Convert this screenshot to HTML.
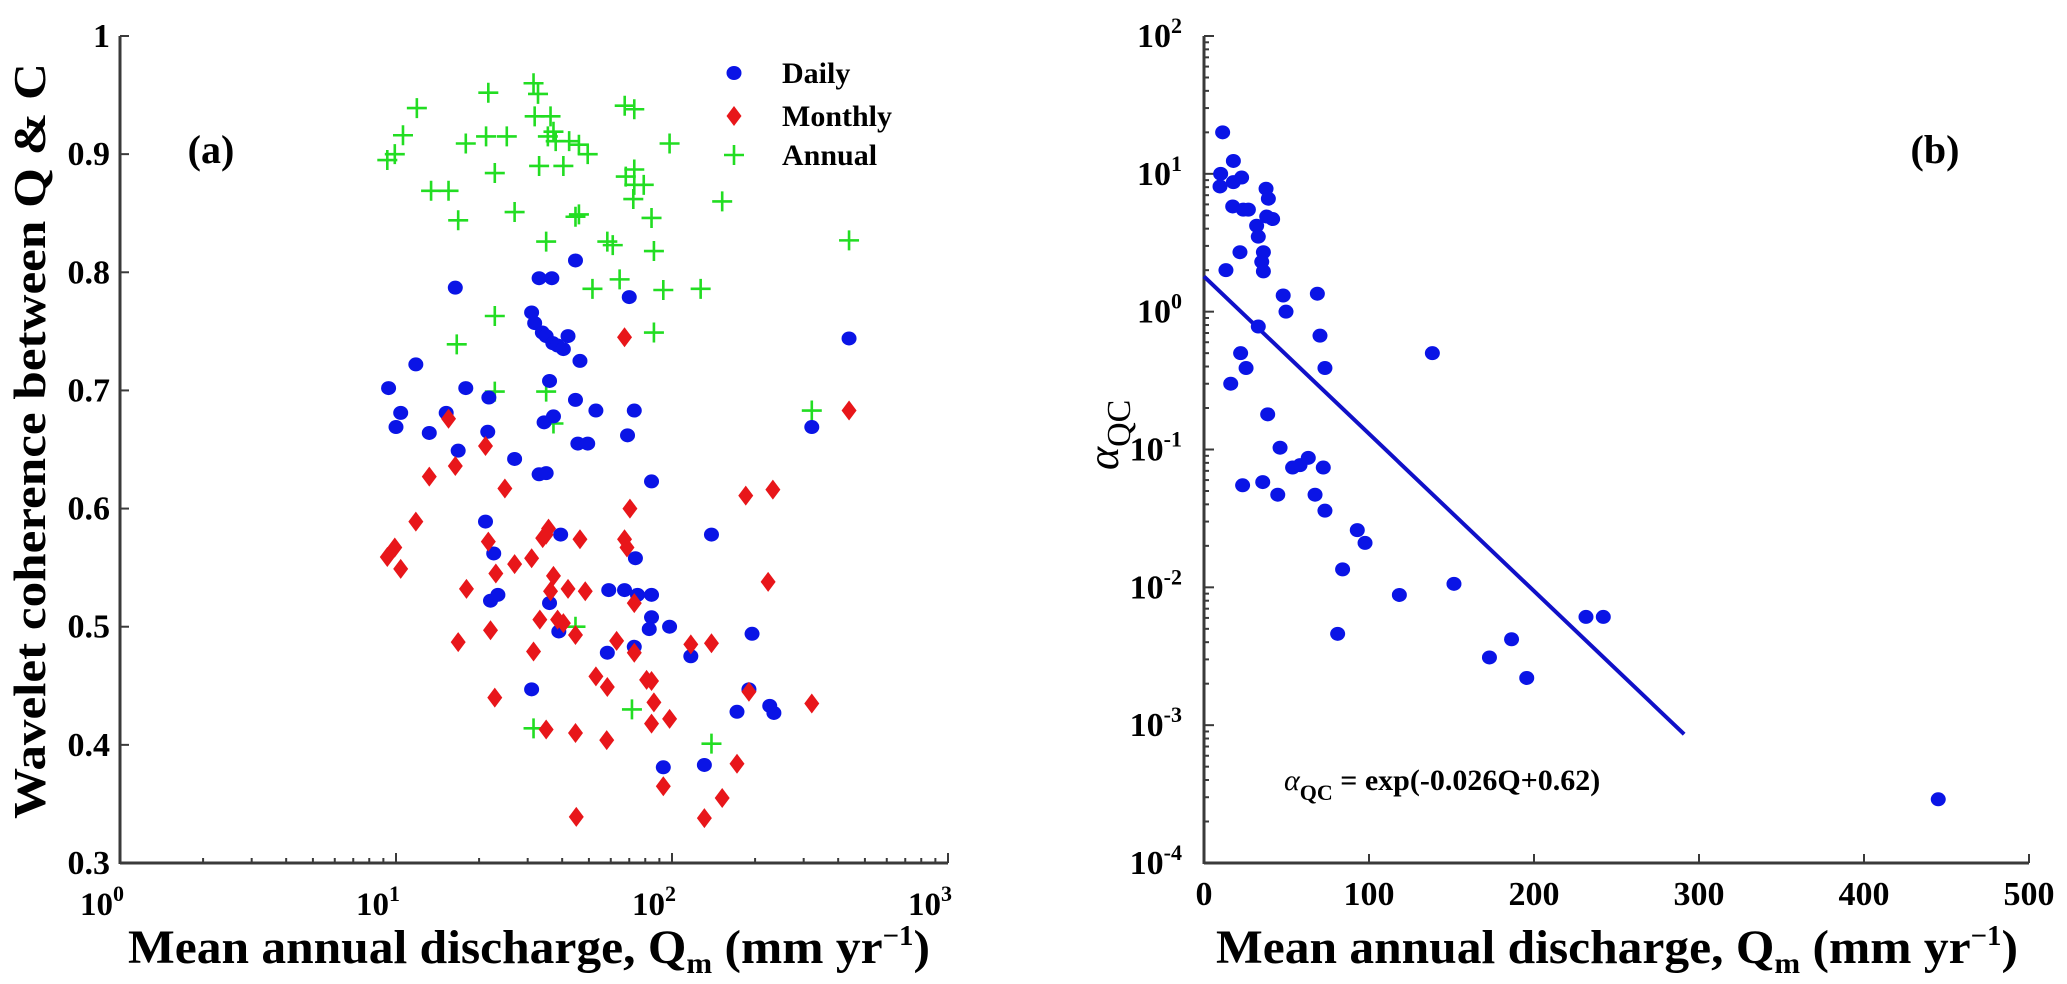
<!DOCTYPE html>
<html><head><meta charset="utf-8"><style>
html,body{margin:0;padding:0;background:#fff;}
svg{display:block;}
svg text{font-family:"Liberation Serif","Times New Roman",serif;font-weight:bold;}
</style></head><body>
<svg id="chart" width="2067" height="984" viewBox="0 0 2067 984" xmlns="http://www.w3.org/2000/svg" font-family="Liberation Serif, serif" font-weight="bold">
<g id="pa"></g>
<g id="pb"></g>
<text x="211" y="163" font-size="40" text-anchor="middle">(a)</text>
<text x="1935" y="163" font-size="40" text-anchor="middle">(b)</text>
<text x="128" y="963" font-size="48" textLength="802" lengthAdjust="spacingAndGlyphs">Mean annual discharge, Q<tspan font-size="30" dy="10">m</tspan><tspan dy="-10"> (mm yr</tspan><tspan font-size="28" dy="-18">−1</tspan><tspan dy="18">)</tspan></text>
<text x="1216" y="963" font-size="48" textLength="802" lengthAdjust="spacingAndGlyphs">Mean annual discharge, Q<tspan font-size="30" dy="10">m</tspan><tspan dy="-10"> (mm yr</tspan><tspan font-size="28" dy="-18">−1</tspan><tspan dy="18">)</tspan></text>
<text transform="translate(45,441) rotate(-90)" font-size="46" text-anchor="middle" textLength="756" lengthAdjust="spacingAndGlyphs">Wavelet  coherence between Q &amp; C</text>
<text transform="translate(1118,470) rotate(-90)" font-size="44" style="font-weight:normal"><tspan font-style="italic">α</tspan><tspan dy="12" font-size="34">QC</tspan></text>
<text x="1284" y="790" font-size="30"><tspan font-style="italic" style="font-weight:normal">α</tspan><tspan dy="10" font-size="22">QC</tspan><tspan dy="-10"> = exp(-0.026Q+0.62)</tspan></text>
<g id="legend"></g>
</svg>
<script>
// Panel (a) data: Mean annual discharge Q (mm/yr), wavelet coherence C
const dailyQ = [9.4,10,10.4,11.8,13.2,15.2,16.4,16.8,17.9,21.5,21.7,21.1,22,22.6,23.4,26.9,31,31.8,33.9,35,37,38.5,40.4,42,33,36.7,44.7,46.4,44.7,45.6,49.5,53,36,34.4,37.2,33,35,39.5,31,36,38.9,58.3,59,67.3,70,69,73,73.7,73,75,84.3,84.3,84.3,82.7,98,93,117,139,131,172,195,190,438,321,234,226];
const dailyC = [0.702,0.669,0.681,0.722,0.664,0.681,0.787,0.649,0.702,0.665,0.694,0.589,0.522,0.562,0.527,0.642,0.766,0.757,0.749,0.746,0.740,0.738,0.735,0.746,0.795,0.795,0.810,0.725,0.692,0.655,0.655,0.683,0.708,0.673,0.678,0.629,0.630,0.578,0.447,0.520,0.496,0.478,0.531,0.531,0.779,0.662,0.683,0.558,0.483,0.527,0.623,0.527,0.508,0.498,0.500,0.381,0.475,0.578,0.383,0.428,0.494,0.447,0.744,0.669,0.427,0.433];
const monthlyQ = [9.3,9.9,10.4,11.8,13.2,15.5,16.4,16.8,18,21.1,21.6,22,22.8,23,24.8,26.9,31,31.5,33.2,34,35,35.7,36.3,37.2,35,38.5,40.4,42,44.7,44.7,46.4,48.5,53,58.3,58,63,67.3,68.7,70.4,73,73,67.3,80.9,84.3,86,84.3,98,93,117,139,131,152,172,190,185,232,223,321,438,45];
const monthlyC = [0.559,0.567,0.549,0.589,0.627,0.676,0.636,0.487,0.532,0.653,0.572,0.497,0.44,0.545,0.617,0.553,0.558,0.479,0.506,0.575,0.578,0.583,0.530,0.543,0.413,0.506,0.503,0.532,0.493,0.410,0.574,0.530,0.458,0.449,0.404,0.488,0.574,0.567,0.600,0.520,0.478,0.745,0.455,0.454,0.436,0.418,0.422,0.365,0.485,0.486,0.338,0.355,0.384,0.445,0.611,0.616,0.538,0.435,0.683,0.339];
const annualQ = [9.3,9.9,10.6,11.9,13.4,15.5,16.8,17.9,21.6,21.2,22.8,25.2,26.9,31.5,32.7,31.8,36.3,33,35.5,37.2,40.4,37.9,42.4,46,49.5,44.7,46,35,58.3,61,51.5,64.6,67.4,73,68,73,73,79,72.4,84.3,86,93,98,86,127,152,438,321,16.6,22.8,22.8,35,37.2,44.7,31.5,71.6,139];
const annualC = [0.895,0.90,0.916,0.939,0.869,0.869,0.844,0.909,0.952,0.915,0.884,0.915,0.851,0.960,0.951,0.932,0.932,0.89,0.915,0.919,0.890,0.911,0.911,0.908,0.90,0.847,0.849,0.826,0.826,0.823,0.786,0.794,0.941,0.938,0.881,0.887,0.874,0.874,0.862,0.846,0.818,0.785,0.909,0.749,0.786,0.860,0.827,0.683,0.739,0.763,0.699,0.699,0.672,0.50,0.414,0.43,0.401];
const aYTicks = [0.3,0.4,0.5,0.6,0.7,0.8,0.9,1];
const aYTickLabels = ["0.3","0.4","0.5","0.6","0.7","0.8","0.9","1"];
const aXDecades = [0,1,2,3];
// Panel (b) data: Q (mm/yr), alpha_QC
const bQ = [11.3,17.8,10.1,9.7,17.8,22.8,17.4,23.8,26.9,37.6,39,41.6,38,31.9,32.9,36,35,36,21.8,13.3,48,49.7,68.7,32.9,70.3,73.3,22.2,25.5,16.2,138.4,38.6,46.1,53.7,58.2,63.2,72.3,23.4,35.6,44.7,67.3,73.3,92.9,97.6,84,118.4,151.5,81,231.5,242,186.4,173,195.6,445];
const bAlpha = [20,12.4,10,8.1,8.7,9.4,5.8,5.5,5.5,7.8,6.6,4.7,4.9,4.2,3.5,2.7,2.3,1.96,2.7,2.0,1.31,1.0,1.35,0.78,0.67,0.39,0.5,0.39,0.3,0.5,0.18,0.103,0.074,0.077,0.087,0.074,0.055,0.058,0.047,0.047,0.036,0.026,0.021,0.0135,0.0088,0.0106,0.0046,0.0061,0.0061,0.0042,0.0031,0.0022,0.00029];
const fitQ = [0,291];
const fitAlpha = [1.8,0.00086];
const bXTicks = [0,100,200,300,400,500];
const bYDecades = [-4,-3,-2,-1,0,1,2];

const NS = "http://www.w3.org/2000/svg";
function mk(parent, tag, attrs){const e=document.createElementNS(NS,tag);for(const k in attrs)e.setAttribute(k,attrs[k]);parent.appendChild(e);return e;}

const aX0=120, aDec=276, aYb=863, aYt=36;
function ax(q){return aX0+Math.log10(q)*aDec;}
function ay(c){return aYb-(c-0.3)/0.7*(aYb-aYt);}
const bX0=1204, bPer=1.65, bYb=863, bYt=36;
function bx(q){return bX0+q*bPer;}
function by(a){return bYb-(Math.log10(a)+4)/6*(bYb-bYt);}

const pa=document.getElementById('pa');
const pb=document.getElementById('pb');
const axisCol="#3a3a3a";

let l=mk(pa,'line',{x1:aX0,y1:aYb,x2:ax(1000),y2:aYb,stroke:axisCol,'stroke-width':3});


l=mk(pa,'line',{x1:aX0,y1:aYb+1,x2:aX0,y2:aYt,stroke:axisCol,'stroke-width':3});


for(const d of aXDecades){
  const x=ax(Math.pow(10,d));
  mk(pa,'line',{x1:x,y1:aYb,x2:x,y2:aYb-10,stroke:axisCol,'stroke-width':2});
  const t=mk(pa,'text',{x:x-18,y:915,'font-size':33,'text-anchor':'middle'});
  
  
  t.innerHTML='10<tspan font-size="22" dy="-14">'+d+'</tspan>';
  if(d<3){for(let m=2;m<10;m++){const xm=ax(m*Math.pow(10,d));mk(pa,'line',{x1:xm,y1:aYb,x2:xm,y2:aYb-5,stroke:axisCol,'stroke-width':2});}}
}
aYTicks.forEach((v,i)=>{
  const y=ay(v);
  mk(pa,'line',{x1:aX0,y1:y,x2:aX0+9,y2:y,stroke:axisCol,'stroke-width':2});
  const t=mk(pa,'text',{x:110,y:y+11,'font-size':34,'text-anchor':'end'});
  
  
  t.textContent=aYTickLabels[i];
});

function circle(g,x,y,name){const c=mk(g,'ellipse',{cx:x,cy:y,rx:7.5,ry:7,fill:'#0a14e6'});return c;}
function diamond(g,x,y,name){const p=mk(g,'polygon',{points:`${x},${y-10} ${x+7.5},${y} ${x},${y+10} ${x-7.5},${y}`,fill:'#e8161a'});return p;}
function plus(g,x,y,name){const p=mk(g,'path',{d:`M${x-10},${y}H${x+10}M${x},${y-10}V${y+10}`,stroke:'#22dd22','stroke-width':2.6,fill:'none'});return p;}

annualQ.forEach((q,i)=>plus(pa,ax(q),ay(annualC[i]),'annual-point'));
dailyQ.forEach((q,i)=>circle(pa,ax(q),ay(dailyC[i]),'daily-point'));
monthlyQ.forEach((q,i)=>diamond(pa,ax(q),ay(monthlyC[i]),'monthly-point'));

const lg=document.getElementById('legend');
const legendItems=[["Daily",73],["Monthly",116],["Annual",155]];
circle(lg,734,73,'legend-marker-daily');
diamond(lg,734,116,'legend-marker-monthly');
plus(lg,734,155,'legend-marker-annual');
legendItems.forEach(([s,y])=>{const t=mk(lg,'text',{x:782,y:y+10,'font-size':30});t.textContent=s;});

l=mk(pb,'line',{x1:bX0,y1:bYb,x2:bx(500),y2:bYb,stroke:axisCol,'stroke-width':3});


l=mk(pb,'line',{x1:bX0,y1:bYb+1,x2:bX0,y2:bYt,stroke:axisCol,'stroke-width':3});


bXTicks.forEach(v=>{
  const x=bx(v);
  mk(pb,'line',{x1:x,y1:bYb,x2:x,y2:bYb-9,stroke:axisCol,'stroke-width':2});
  const t=mk(pb,'text',{x:x,y:905,'font-size':34,'text-anchor':'middle'});
  
  
  t.textContent=v;
});
bYDecades.forEach(d=>{
  const y=by(Math.pow(10,d));
  mk(pb,'line',{x1:bX0,y1:y,x2:bX0+10,y2:y,stroke:axisCol,'stroke-width':2});
  const t=mk(pb,'text',{x:1182,y:y+11,'font-size':34,'text-anchor':'end'});
  
  
  t.innerHTML='10<tspan font-size="22" dy="-14">'+d+'</tspan>';
  if(d<2){for(let m=2;m<10;m++){const ym=by(m*Math.pow(10,d));mk(pb,'line',{x1:bX0,y1:ym,x2:bX0+5,y2:ym,stroke:axisCol,'stroke-width':2});}}
});
const fit=mk(pb,'line',{x1:bx(fitQ[0]),y1:by(fitAlpha[0]),x2:bx(fitQ[1]),y2:by(fitAlpha[1]),stroke:'#1010c8','stroke-width':4});


bQ.forEach((q,i)=>circle(pb,bx(q),by(bAlpha[i]),'alpha-point'));
</script>
</body></html>
